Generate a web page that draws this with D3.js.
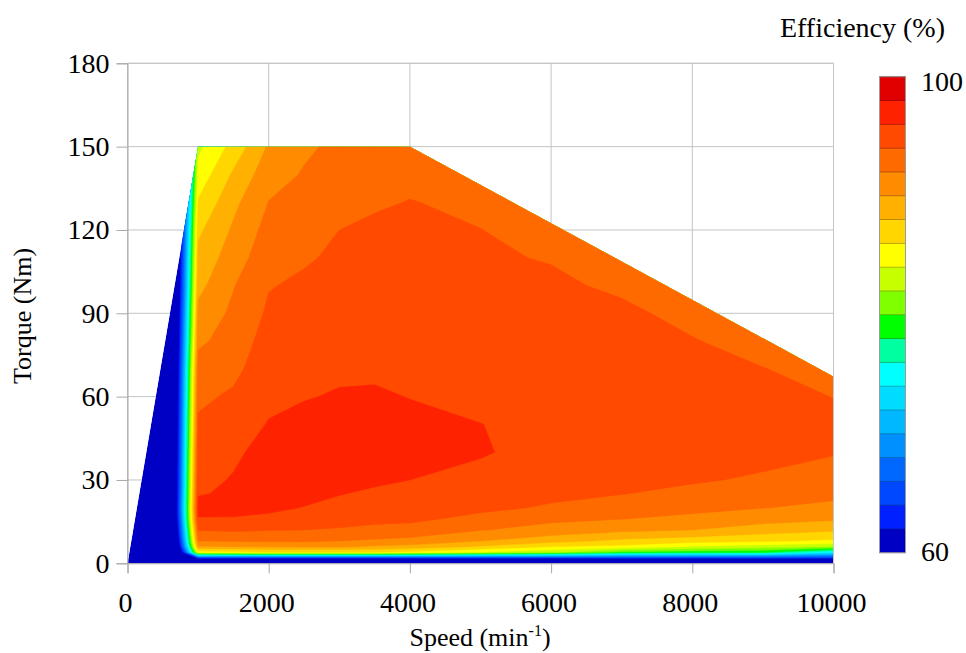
<!DOCTYPE html>
<html>
<head>
<meta charset="utf-8">
<script src="https://cdn.jsdelivr.net/npm/d3@7"></script>
<style>
  body { margin: 0; background: #ffffff; }
</style>
</head>
<body>
<svg id="chart" width="966" height="653"></svg>
<script>
// Measurement grid: motor speed (min^-1) and torque (Nm)
const speeds = [0, 1000, 1500, 2000, 2500, 3000, 3500, 4000, 5000, 6000, 7000, 8000, 9000, 10000];
const torques = [0, 2, 4, 6, 8, 12, 16, 20, 25, 30, 40, 50, 60, 70, 80, 90, 100, 110, 120, 130, 140, 150];

// Efficiency (%) — one row per torque level, one column per speed
const efficiency = [
  [-20, 40,   40,   40,    40,    40,    40,    40,    40,    40,   40,    40,    40,    40],
  [-20, 64.5, 64.5, 64.5,  64.5,  64.5,  64.5,  64.5,  64.5,  64.5, 64.5,  64.5,  64.5,  64.5],
  [-20, 85,   85.5, 86,    86,    86,    86,    85.5,  84,    82.5, 79.5,  79,    78.5,  74.5],
  [-20, 89.8, 90,   90,    90.3,  90.3,  89.7,  89.3,  87.7,  86,   85.5,  83.8,  83,    82],
  [-20, 92,   92.2, 92.3,  92.3,  92,    91.7,  91.4,  90,    88.7, 87.5,  86.8,  86.3,  85.6],
  [-20, 94.1, 94.3, 94.1,  94,    93.8,  93.5,  93.3,  92.1,  91.3, 90.5,  90,    89,    88.3],
  [-20, 95.9, 95.9, 95.7,  95.2,  94.8,  94.5,  94.4,  93.5,  92.4, 92.05, 91.6,  90.8,  90.3],
  [-20, 96.5, 96.4, 96.3,  95.95, 95.6,  95.2,  95.1,  94.4,  93.8, 93,    92.45, 92.05, 91.6],
  [-20, 95.9, 96.2, 96.5,  96.4,  96.05, 95.8,  95.6,  95,    94.4, 94.05, 93.5,  93,    92.4],
  [-20, 95.6, 96.1, 96.6,  96.6,  96.3,  96.2,  96,    95.5,  94.8, 94.6,  94.2,  93.75, 93],
  [-20, 95,   95.75,96.5,  96.7,  96.6,  96.5,  96.4,  96.15, 95.4, 95.15, 94.9,  94.6,  94.15],
  [-20, 94.3, 95.1, 96.1,  96.5,  96.5,  96.5,  96.3,  96.02, 95.6, 95.4,  95.2,  95,    94.5],
  [-20, 93.6, 94.3, 95.6,  95.9,  96.15, 96.15, 95.97, 95.6,  95.5, 95.45, 95.3,  94.9,  93.95],
  [-20, 92.9, 93.5, 95.2,  95.5,  95.7,  95.8,  95.6,  95.3,  95.3, 95.3,  95,    94.05, 93.3],
  [-20, 91.6, 92.9, 94.8,  95.1,  95.3,  95.5,  95.3,  95,    95,   95,    94.1,  93.3,  92.8],
  [-20, 90.6, 92.4, 94.3,  94.7,  95,    95.2,  95,    94.7,  94.6, 94.35, 93.5,  92.7,  92.5],
  [-20, 89.4, 91.9, 93.9,  94.3,  94.6,  94.9,  94.75, 94.4,  94.3, 93.7,  93,    92.5,  92.4],
  [-20, 88.6, 91,   93.3,  93.8,  94.3,  94.6,  94.5,  94.2,  93.9, 93.1,  92.7,  92.4,  92.3],
  [-20, 87.6, 90.3, 92.7,  93.3,  94,    94.3,  94.3,  94.02, 93.5, 92.8,  92.5,  92.3,  92.3],
  [-20, 86.2, 89.5, 92.05, 92.7,  93.6,  93.8,  94.05, 93.7,  93.1, 92.6,  92.4,  92.3,  92.3],
  [-20, 84.7, 88.3, 91.2,  92.15, 93,    93.3,  93.6,  93.3,  92.8, 92.5,  92.3,  92.3,  92.3],
  [-20, 83.5, 86.7, 90.25, 91.7,  92.4,  92.7,  93,    92.9,  92.6, 92.4,  92.3,  92.3,  92.3]
];

// Operating envelope (torque limit curve)
const envelopeSpeed = [0, 1000, 4000, 10000, 10000];
const envelopeTorque = [0, 150, 150, 67.2, 0];

// Colour levels: 20 bands of 2 % between 60 and 100
const levelEdges = d3.range(60, 100.001, 2);
const bandColors = [
  "#0000c4", "#0020ff", "#0048ff", "#0068ff", "#0090ff",
  "#00b8ff", "#00dcff", "#00ffff", "#00ffa0", "#00ff00",
  "#80ff00", "#c8ff00", "#ffff00", "#ffd600", "#ffb000",
  "#ff8c00", "#ff6a00", "#ff4a00", "#ff2200", "#e00000"
];

const xTicks = [0, 2000, 4000, 6000, 8000, 10000];
const yTicks = [0, 30, 60, 90, 120, 150, 180];

const serif = "'Liberation Serif', Tinos, serif";
const svg = d3.select("#chart");
const x = d3.scaleLinear().domain([0, 10000]).range([127.5, 833.5]);
const y = d3.scaleLinear().domain([0, 180]).range([563.3, 63.3]);
const gridColor = "#c4c4c4";
const axisColor = "#a8a8a8";

// grid
const grid = svg.append("g");
grid.selectAll("line.v").data(xTicks).join("line")
  .attr("x1", d => x(d)).attr("x2", d => x(d))
  .attr("y1", y(180)).attr("y2", y(0))
  .attr("stroke", gridColor).attr("stroke-width", 1);
grid.selectAll("line.h").data(yTicks).join("line")
  .attr("x1", x(0)).attr("x2", x(10000))
  .attr("y1", d => y(d)).attr("y2", d => y(d))
  .attr("stroke", gridColor).attr("stroke-width", 1);

// clip to the operating envelope
const envelopePts = envelopeSpeed.map((s, i) => [x(s), y(envelopeTorque[i])]);
svg.append("clipPath").attr("id", "env")
  .append("path").attr("d", d3.line()(envelopePts) + "Z");

const map = svg.append("g").attr("clip-path", "url(#env)");
map.append("path").attr("d", d3.line()(envelopePts) + "Z").attr("fill", bandColors[0]);

// filled contours on the (non-uniform) speed/torque grid
const nx = speeds.length, ny = torques.length;
const values = efficiency.flat();
const idxSpeed = d3.scaleLinear().domain(d3.range(nx)).range(speeds).clamp(true);
const idxTorque = d3.scaleLinear().domain(d3.range(ny)).range(torques).clamp(true);
const gridProjection = d3.geoTransform({
  point(px, py) {
    this.stream.point(x(idxSpeed(px - 0.5)), y(idxTorque(py - 0.5)));
  }
});
const contourPath = d3.geoPath(gridProjection);
const thresholds = levelEdges.slice(1, -1);
const contours = d3.contours().size([nx, ny]).thresholds(thresholds)(values);
map.selectAll("path.band").data(contours).join("path")
  .attr("class", "band")
  .attr("d", contourPath)
  .attr("fill", d => bandColors[Math.round((d.value - 60) / 2)])
  .attr("stroke", d => bandColors[Math.round((d.value - 60) / 2)])
  .attr("stroke-width", 0.4);

// frame lines (top and right)
svg.append("line").attr("x1", x(0)).attr("x2", x(10000)).attr("y1", y(180)).attr("y2", y(180))
  .attr("stroke", gridColor);
svg.append("line").attr("x1", x(10000)).attr("x2", x(10000)).attr("y1", y(180)).attr("y2", y(0))
  .attr("stroke", gridColor);

// axes
const fontSize = 28;
const yAxis = svg.append("g").attr("transform", `translate(${x(0)},0)`)
  .call(d3.axisLeft(y).tickValues(yTicks).tickFormat(d3.format("d")).tickSize(11).tickPadding(7));
const xAxis = svg.append("g").attr("transform", `translate(0,${y(0)})`)
  .call(d3.axisBottom(x).tickValues(xTicks).tickFormat(d3.format("d")).tickSize(10).tickPadding(19));
[yAxis, xAxis].forEach(g => {
  g.select(".domain").attr("stroke", axisColor);
  g.selectAll(".tick line").attr("stroke", axisColor);
  g.selectAll(".tick text").attr("fill", "#000")
    .style("font-family", serif).style("font-size", fontSize + "px");
});
xAxis.selectAll(".tick text").attr("dx", -2.5);

// axis titles
svg.append("text").attr("x", 480).attr("y", 646).attr("text-anchor", "middle")
  .style("font-family", serif).style("font-size", "26px")
  .call(t => {
    t.append("tspan").text("Speed (min");
    t.append("tspan").text("-1").style("font-size", "16px").attr("dy", -10);
    t.append("tspan").text(")").attr("dy", 10);
  });
svg.append("text").attr("transform", "translate(31,316) rotate(-90)")
  .style("font-family", serif).style("font-size", "26px")
  .attr("text-anchor", "middle").text("Torque (Nm)");

// colour bar
const cb = svg.append("g");
const cy = d3.scaleLinear().domain([60, 100]).range([552.7, 76.7]);
const cbX = 879.5, cbW = 26;
cb.selectAll("rect").data(bandColors).join("rect")
  .attr("x", cbX).attr("width", cbW)
  .attr("y", (d, i) => cy(levelEdges[i + 1]))
  .attr("height", (d, i) => cy(levelEdges[i]) - cy(levelEdges[i + 1]))
  .attr("fill", d => d)
  .attr("stroke", d => d3.color(d).darker(0.9))
  .attr("stroke-width", 0.8);
cb.append("rect").attr("x", cbX).attr("y", cy(100)).attr("width", cbW)
  .attr("height", cy(60) - cy(100)).attr("fill", "none")
  .attr("stroke", "#9a9a9a").attr("stroke-width", 1);
cb.append("text").attr("x", 921).attr("y", 91)
  .style("font-family", serif).style("font-size", fontSize + "px").text("100");
cb.append("text").attr("x", 921).attr("y", 561)
  .style("font-family", serif).style("font-size", fontSize + "px").text("60");
svg.append("text").attr("x", 945).attr("y", 37).attr("text-anchor", "end")
  .style("font-family", serif).style("font-size", "28px").text("Efficiency (%)");
</script>
</body>
</html>
